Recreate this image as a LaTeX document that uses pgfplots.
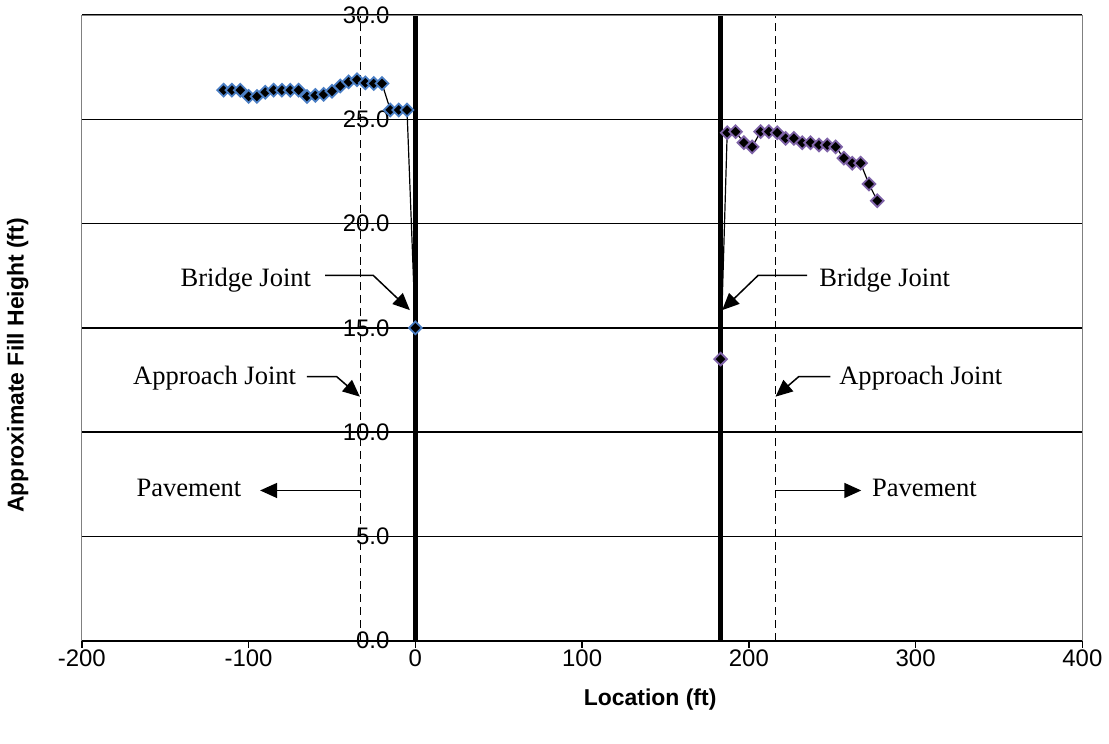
\documentclass[border=0pt]{standalone}
\usepackage{fontspec}
\setmainfont{Liberation Serif}
\newfontfamily\arial{Liberation Sans}
\usepackage{pgfplots}
\pgfplotsset{compat=1.18}
\usetikzlibrary{arrows.meta}
\definecolor{westcol}{HTML}{4A7EC4}
\definecolor{eastcol}{HTML}{7F63A8}

\begin{document}
\begin{tikzpicture}
\begin{axis}[
  scale only axis,
  width=501.5pt, height=313.5pt,
  xmin=-200, xmax=400, ymin=0, ymax=30,
  axis x line=bottom, axis y line=middle,
  x axis line style={-, line width=1pt},
  y axis line style={-},
  hide obscured x ticks=false, hide obscured y ticks=false,
  xtick={-200,-100,...,400}, ytick={0,5,...,30},
  tick align=outside, major tick length=3.5pt,
  xtick style={black, line width=0.75pt},
  ytick style={draw=none},
  ymajorgrids, grid style={black, line width=0.7pt},
  /pgf/number format/assume math mode=true,
  tick label style={font=\arial\fontsize{12}{14}\selectfont},
  xticklabel style={yshift=2.5pt},
  yticklabel style={xshift=-6pt, /pgf/number format/.cd, fixed, fixed zerofill, precision=1},
  xlabel={Location (ft)}, ylabel={Approximate Fill Height (ft)},
  every axis x label/.style={at={(rel axis cs:0.568,-0.094)}, anchor=center,
    font=\arial\bfseries\fontsize{11.5}{13}\selectfont},
  every axis y label/.style={at={(rel axis cs:-0.064,0.44)}, anchor=center, rotate=90,
    font=\arial\bfseries\fontsize{11.5}{13}\selectfont},
  clip=false,
]
% joints
\addplot[black, line width=2.6pt] coordinates {(0,0) (0,30)};
\addplot[black, line width=2.6pt] coordinates {(183,0) (183,30)};
\addplot[black, line width=0.75pt, dash pattern=on 4pt off 2.5pt] coordinates {(-33,0) (-33,30)};
\addplot[black, line width=0.75pt, dash pattern=on 4pt off 2.5pt] coordinates {(216,0) (216,30)};

% west approach
\addplot[black, line width=0.6pt, mark=square*, mark size=2.25pt,
  mark options={rotate=45, fill=black, draw=westcol, line width=0.9pt, solid}]
  coordinates {
  (-115,26.4) (-110,26.4) (-105,26.4) (-100,26.1) (-95,26.1) (-90,26.3)
  (-85,26.4) (-80,26.4) (-75,26.4) (-70,26.4) (-65,26.1) (-60,26.15)
  (-55,26.2) (-50,26.35) (-45,26.6) (-40,26.8) (-35,26.9) (-30,26.75)
  (-25,26.72) (-20,26.72) (-15,25.45) (-10,25.45) (-5,25.45) (0,15.0)
  };
% east approach
\addplot[black, line width=0.6pt, mark=square*, mark size=2.25pt,
  mark options={rotate=45, fill=black, draw=eastcol, line width=0.9pt, solid}]
  coordinates {
  (183,13.5) (187,24.36) (192,24.41) (197,23.88) (202,23.68) (207,24.41)
  (212,24.41) (217,24.36) (222,24.09) (227,24.09) (232,23.88) (237,23.88)
  (242,23.77) (247,23.77) (252,23.68) (257,23.14) (262,22.9) (267,22.9)
  (272,21.9) (277,21.1)
  };

% plot area border
\draw[gray, line width=0.5pt] (rel axis cs:0,0) -- (rel axis cs:0,1) -- (rel axis cs:1,1) -- (rel axis cs:1,0);

% annotations
\begin{scope}[font=\fontsize{13.3}{16}\selectfont, line width=0.75pt,
  >={Triangle[length=8.5pt,width=7.5pt]}]
\node[anchor=east, inner sep=0pt] at (axis cs:-62.1,17.28) {Bridge Joint};
\draw[->] (axis cs:-54.1,17.52) -- (axis cs:-25.3,17.52) -- (axis cs:-3.3,15.85);
\node[anchor=east, inner sep=0pt] at (axis cs:-71.1,12.58) {Approach Joint};
\draw[->] (axis cs:-65.1,12.66) -- (axis cs:-47.2,12.66) -- (axis cs:-33.3,11.7);
\node[anchor=east, inner sep=0pt] at (axis cs:-104.0,7.33) {Pavement};
\draw[->] (axis cs:-32.7,7.2) -- (axis cs:-93.1,7.2);

\node[anchor=west, inner sep=0pt] at (axis cs:241.9,17.28) {Bridge Joint};
\draw[->] (axis cs:234.9,17.52) -- (axis cs:205.6,17.52) -- (axis cs:184.0,15.85);
\node[anchor=west, inner sep=0pt] at (axis cs:253.8,12.58) {Approach Joint};
\draw[->] (axis cs:248.9,12.66) -- (axis cs:229.9,12.66) -- (axis cs:216,11.7);
\node[anchor=west, inner sep=0pt] at (axis cs:273.4,7.33) {Pavement};
\draw[->] (axis cs:216,7.2) -- (axis cs:267.4,7.2);
\end{scope}

% page extent
\path (rel axis cs:-0.0818,-0.1643) rectangle (rel axis cs:1.0239,1.0159);
\end{axis}
\end{tikzpicture}
\end{document}
